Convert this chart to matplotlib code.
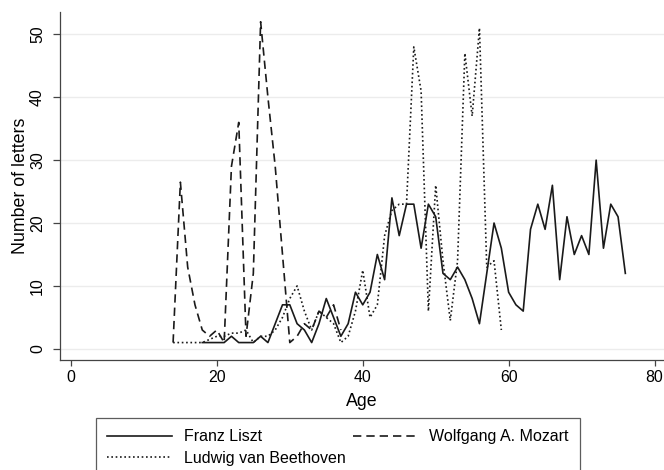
import numpy as np
import matplotlib
matplotlib.use('Agg')
import matplotlib.pyplot as plt

plt.rcParams['font.family'] = ['Liberation Sans', 'DejaVu Sans']

# Letters per year of age
liszt_age = list(range(18, 77))
liszt_n = [1, 1, 1, 1, 2, 1, 1, 1, 2, 1,      # 18-27
           4, 7, 7, 4, 3, 1, 4, 8, 5, 2,      # 28-37
           4, 9, 7, 9, 15, 11, 24, 18, 23, 23,  # 38-47
           16, 23, 21, 12, 11, 13, 11, 8, 4, 12,  # 48-57
           20, 16, 9, 7, 6, 19, 23, 19, 26, 11,   # 58-67
           21, 15, 18, 15, 30, 16, 23, 21, 12]    # 68-76

mozart_age = list(range(14, 38))
mozart_n = [1, 26.5, 13, 7, 3, 2, 3, 1, 29, 36,  # 14-23
            2, 12, 52, 40, 29, 15, 1, 2, 4, 3,   # 24-33
            6, 5, 7, 3]                          # 34-37

beethoven_age = list(range(14, 60))
beethoven_n = [1, 1, 1, 1, 1, 1.5, 2, 2, 2.5, 2.5,  # 14-23
               3, 1, 2, 2, 3, 5, 8, 10, 6, 3,       # 24-33
               6, 5, 4, 1, 2, 6, 12.5, 5, 7, 18,    # 34-43
               22, 23, 23, 48, 41, 6, 26, 14, 4.5, 14,  # 44-53
               47, 37, 51, 13, 14, 3]               # 54-59

fig = plt.figure(figsize=(6.64, 4.70), dpi=100)
ax = fig.add_axes([0.0904, 0.235, 0.9096, 0.7395])

col = '#1a1a1a'
l1, = ax.plot(liszt_age, liszt_n, color=col, lw=1.2, ls='-', label='Franz Liszt')
l2, = ax.plot(mozart_age, mozart_n, color=col, lw=1.2, ls=(0, (5, 3)), label='Wolfgang A. Mozart')
l3, = ax.plot(beethoven_age, beethoven_n, color=col, lw=1.2, ls=(0, (1, 1.6)), label='Ludwig van Beethoven')

ax.set_xlim(-1.5, 81.3)
ax.set_ylim(-1.7, 53.55)
ax.set_xticks([0, 20, 40, 60, 80])
ax.set_yticks([0, 10, 20, 30, 40, 50])
ax.yaxis.grid(True, color='#ececec', lw=1.0)
ax.set_axisbelow(True)
for s in ['top', 'right']:
    ax.spines[s].set_visible(False)
for s in ['left', 'bottom']:
    ax.spines[s].set_color('#444444')
    ax.spines[s].set_linewidth(0.9)
ax.tick_params(axis='x', length=4, width=0.9, color='#444444', labelsize=11.4, pad=3.4)
ax.tick_params(axis='y', length=4.8, width=0.9, color='#444444', labelsize=11.4, pad=6)
plt.setp(ax.get_yticklabels(), rotation=90, va='center')
ax.set_xlabel('Age', fontsize=12.8, labelpad=6)
ax.set_ylabel('Number of letters', fontsize=12.8, labelpad=1)

leg = fig.legend([l1, l3, l2], ['Franz Liszt', 'Ludwig van Beethoven', 'Wolfgang A. Mozart'],
                 ncol=2, loc='upper left', bbox_to_anchor=(0.1446, 0.1106, 0.7289, 0.0),
                 mode='expand', fancybox=False, edgecolor='#333333', fontsize=11.5,
                 handlelength=4.06, handletextpad=0.73, borderaxespad=0, columnspacing=2,
                 labelspacing=0.4, borderpad=0.7)
leg.get_frame().set_linewidth(0.9)

fig.savefig('out.png', dpi=100)
